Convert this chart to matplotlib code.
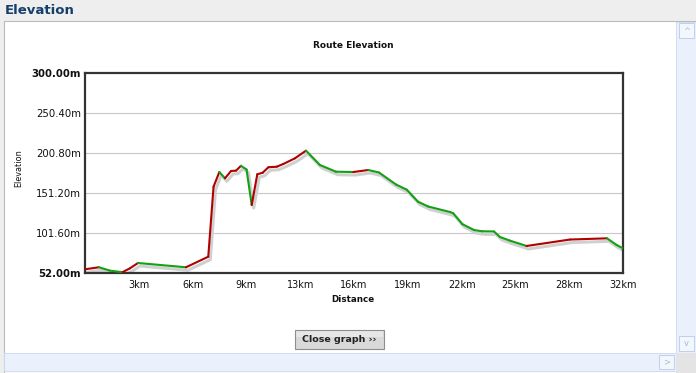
import matplotlib
matplotlib.use("Agg")
import matplotlib.pyplot as plt
import matplotlib.transforms as mtransforms
from matplotlib.collections import LineCollection
from matplotlib.patches import Rectangle, FancyBboxPatch
import numpy as np

# ---- data ----
distance_km = [0.00, 0.82, 1.47, 2.20, 2.64, 3.11, 5.93, 7.24, 7.55, 7.89, 8.22,
               8.58, 8.87, 9.16, 9.49, 9.79, 10.12, 10.44, 10.77, 11.26, 11.65,
               12.33, 12.98, 13.80, 14.74, 15.76, 16.64, 17.27, 18.27, 18.90,
               19.56, 20.15, 21.44, 21.63, 22.17, 22.85, 23.32, 24.02, 24.38,
               24.96, 25.94, 28.49, 30.66, 31.23, 31.60]
elevation_m = [56.6, 59.1, 54.9, 53.0, 57.8, 64.4, 59.1, 72.2, 159.0, 177.2, 169.4,
               178.5, 178.9, 184.9, 180.3, 136.3, 174.4, 176.4, 183.1, 183.8, 187.2,
               194.2, 203.7, 185.9, 177.6, 177.2, 179.7, 176.6, 161.7, 155.3,
               140.4, 134.5, 127.6, 126.0, 112.5, 105.3, 103.7, 103.5, 96.6,
               92.1, 85.5, 93.5, 95.0, 86.7, 82.6]
y_ticks = [52.00, 101.60, 151.20, 200.80, 250.40, 300.00]
y_tick_labels = ["52.00m", "101.60m", "151.20m", "200.80m", "250.40m", "300.00m"]
total_km = 31.6
x_tick_labels = ["", "3km", "6km", "9km", "13km", "16km", "19km", "22km", "25km", "28km", "32km"]

W, H = 696, 373
fig = plt.figure(figsize=(W / 100, H / 100), dpi=100)
fig.patch.set_facecolor("#EEEEEE")
plt.rcParams['font.family'] = ['DejaVu Sans']


def fx(px):
    return px / W


def fy(py):
    return 1 - py / H


def rect(x0, y0, x1, y1, fc, ec="none", lw=0.0, z=0):
    r = Rectangle((fx(x0), fy(y1)), fx(x1) - fx(x0), fy(y0) - fy(y1),
                  transform=fig.transFigure, facecolor=fc, edgecolor=ec,
                  linewidth=lw, zorder=z)
    fig.patches.append(r)
    return r

# header + panel
fig.text(fx(5), fy(10), "Elevation", fontsize=9.5, fontweight="bold",
         color="#153F6B", ha="left", va="center")
rect(4, 21, 696, 373, "white", "#BBBBBB", 0.8, z=-3)
# vertical scrollbar
rect(676, 22, 696, 353, "#EAF1FC", "#CAD8F0", 0.6, z=-2)
rect(679, 23, 694, 38, "#F2F6FD", "#B9CBEA", 0.6, z=-1)
fig.text(fx(686.5), fy(31), "^", fontsize=6, color="#A9B8D4", ha="center", va="center")
rect(679, 336, 694, 351, "#F2F6FD", "#B9CBEA", 0.6, z=-1)
fig.text(fx(686.5), fy(343), "v", fontsize=6, color="#A9B8D4", ha="center", va="center")
# horizontal scrollbar
rect(4, 353, 676, 371, "#EAF1FC", "#CAD8F0", 0.6, z=-2)
rect(659, 355, 674, 369, "#F2F6FD", "#B9CBEA", 0.6, z=-1)
fig.text(fx(666.5), fy(362), ">", fontsize=6, color="#A9B8D4", ha="center", va="center")
rect(676, 353, 696, 373, "#E4E4E4", z=-2)

# chart axes
left, right, top, bottom = 85, 623, 73, 273
ax = fig.add_axes([fx(left), fy(bottom), fx(right) - fx(left), fy(top) - fy(bottom)])
ax.set_zorder(5)
ax.set_facecolor("white")
ax.set_xlim(0, total_km)
ax.set_ylim(y_ticks[0], y_ticks[-1])

ax.set_yticks(y_ticks)
ax.set_yticklabels(y_tick_labels, fontsize=7.3, color="#111111")
for i, lab in enumerate(ax.get_yticklabels()):
    if i == 0 or i == len(y_ticks) - 1:
        lab.set_fontweight("bold")
xt = [total_km * i / 10 for i in range(11)]
ax.set_xticks(xt)
ax.set_xticklabels(x_tick_labels, fontsize=7, color="#111111")
ax.tick_params(axis="y", length=0, pad=3)
ax.tick_params(axis="x", length=0, pad=5)
for y in y_ticks[1:-1]:
    ax.axhline(y, color="#C8C8C8", lw=0.8, zorder=1)
for s in ax.spines.values():
    s.set_color("#333333")
    s.set_linewidth(1.6)

# shadow
shadow_tr = mtransforms.offset_copy(ax.transData, fig=fig, x=2, y=-3, units="dots")
ax.plot(distance_km, elevation_m, color="#D0D0D0", lw=2.2, transform=shadow_tr,
        solid_joinstyle="round", solid_capstyle="round", zorder=2)

# colored line: red for ascent, green for descent
pts = np.column_stack([distance_km, elevation_m])
segs = np.stack([pts[:-1], pts[1:]], axis=1)
colors = ["#B00000" if elevation_m[i + 1] > elevation_m[i] else "#14A014"
          for i in range(len(elevation_m) - 1)]
lc = LineCollection(segs, colors=colors, linewidths=1.5, zorder=3,
                    capstyle="round", joinstyle="round")
ax.add_collection(lc)

# titles
fig.text(fx(353), fy(46), "Route Elevation", fontsize=6.5, fontweight="bold",
         color="#111111", ha="center", va="center")
fig.text(fx(352.5), fy(299), "Distance", fontsize=6.3, fontweight="bold",
         color="#111111", ha="center", va="center")
fig.text(fx(19), fy(168), "Elevation", fontsize=5.9, color="#111111",
         rotation=90, ha="center", va="center")

# button
rect(295.5, 331, 383, 337, "#E6E6E6", z=2.5)
btn = FancyBboxPatch((fx(295), fy(348.5)), fx(383.5) - fx(295), fy(329.5) - fy(348.5),
                     boxstyle="square,pad=0", transform=fig.transFigure,
                     facecolor="none", edgecolor="#8E8E8E", linewidth=0.8, zorder=3)
rect(295, 329.5, 383.5, 348.5, "#D9D9D9", z=2)
fig.patches.append(btn)
fig.text(fx(339), fy(339.5), "Close graph \u203a\u203a", fontsize=6.8, fontweight="bold",
         color="#222222", ha="center", va="center", zorder=4)

fig.savefig("out.png", dpi=100, facecolor=fig.get_facecolor())
